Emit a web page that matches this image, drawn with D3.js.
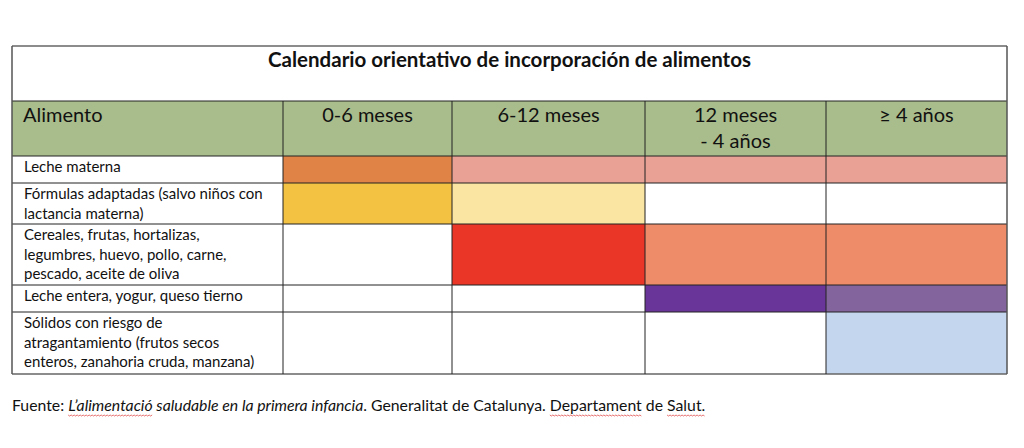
<meta charset="utf-8">
<style>
body { margin: 0; background: #fff; }
svg { font-family: Lato, "Open Sans", sans-serif; }
.cellText { font-size: 15px; fill: #111; }
.headText { font-size: 20px; fill: #111; }
.title { font-size: 20.5px; font-weight: bold; fill: #111; }
.foot { font-size: 15.8px; fill: #111; }
</style>
<body>
<script src="https://d3js.org/d3.v7.min.js"></script>
<script>
// table content
var title = "Calendario orientativo de incorporación de alimentos";
var firstHead = "Alimento";
var periods = [["0-6 meses"], ["6-12 meses"], ["12 meses", "- 4 años"], ["\u2265 4 años"]];
var foods = [
  ["Leche materna"],
  ["Fórmulas adaptadas (salvo niños con", "lactancia materna)"],
  ["Cereales, frutas, hortalizas,", "legumbres, huevo, pollo, carne,", "pescado, aceite de oliva"],
  ["Leche entera, yogur, queso tierno"],
  ["Sólidos con riesgo de", "atragantamiento (frutos secos", "enteros, zanahoria cruda, manzana)"]
];
// cell fill per food (row) and period (column); null = not introduced
var cellFill = [
  ["#df8446", "#e9a196", "#e9a196", "#e9a196"],
  ["#f4c243", "#fbe5a2", null, null],
  [null, "#e93627", "#ee8c69", "#ee8c69"],
  [null, null, "#6a3598", "#83649c"],
  [null, null, null, "#c4d6ee"]
];
var footParts = [
  {t: "Fuente: ", it: false},
  {t: "L\u2019alimentació saludable en la primera infancia", it: true},
  {t: ". Generalitat de Catalunya. Departament de Salut.", it: false}
];
// words flagged by the spell checker in the source line
var flagged = ["L\u2019alimentació", "Departament", "Salut."];

// layout
var W = 1024, H = 448;
var tLeft = 12, tRight = 1007, tTop = 46;
var colEdges = [12, 283, 452, 645, 826, 1007];
var titleH = 55, headH = 55;
var rowH = [27, 41, 61, 27, 62];
var lineH = 19.5;

var svg = d3.select("body").append("svg")
    .attr("width", W)
    .attr("height", H);

var cols = d3.range(colEdges.length - 1);
var x = d3.scaleOrdinal().domain(cols).range(colEdges.slice(0, -1));
var cw = function(i) { return colEdges[i + 1] - colEdges[i]; };

var rowTop = [];
var acc = tTop + titleH + headH;
rowH.forEach(function(h) { rowTop.push(acc); acc += h; });
var tBottom = acc;

// title row
svg.append("rect")
    .attr("x", tLeft).attr("y", tTop)
    .attr("width", tRight - tLeft).attr("height", titleH)
    .attr("fill", "#fff");
svg.append("text")
    .attr("class", "title")
    .attr("x", (tLeft + tRight) / 2)
    .attr("y", tTop + 21)
    .attr("text-anchor", "middle")
    .text(title);

// header row
var headY = tTop + titleH;
svg.append("rect")
    .attr("x", tLeft).attr("y", headY)
    .attr("width", tRight - tLeft).attr("height", headH)
    .attr("fill", "#a9bc8b");
svg.append("text")
    .attr("class", "headText")
    .attr("x", tLeft + 11)
    .attr("y", headY + 21)
    .text(firstHead);
var hd = svg.selectAll(".hd")
    .data(periods)
    .enter().append("text")
    .attr("class", "headText hd")
    .attr("text-anchor", "middle")
    .attr("x", function(d, i) { return x(i + 1) + cw(i + 1) / 2; })
    .attr("y", headY + 21);
hd.selectAll("tspan")
    .data(function(d) { return d; })
    .enter().append("tspan")
    .attr("x", function() { return d3.select(this.parentNode).attr("x"); })
    .attr("dy", function(d, i) { return i ? 26 : 0; })
    .text(function(d) { return d; });

// body cells
var rows = svg.selectAll(".row")
    .data(foods)
    .enter().append("g")
    .attr("class", "row")
    .attr("transform", function(d, i) { return "translate(0," + rowTop[i] + ")"; });

rows.selectAll("rect")
    .data(function(d, i) { return cellFill[i].map(function(c, j) { return {c: c, j: j, h: rowH[i]}; }); })
    .enter().append("rect")
    .attr("x", function(d) { return x(d.j + 1); })
    .attr("y", 0)
    .attr("width", function(d) { return cw(d.j + 1); })
    .attr("height", function(d) { return d.h; })
    .attr("fill", function(d) { return d.c || "#fff"; });

var ft = rows.append("text")
    .attr("class", "cellText")
    .attr("x", tLeft + 12)
    .attr("y", 16);
ft.selectAll("tspan")
    .data(function(d) { return d; })
    .enter().append("tspan")
    .attr("x", tLeft + 12)
    .attr("dy", function(d, i) { return i ? lineH : 0; })
    .text(function(d) { return d; });

// grid lines
var hLines = [tTop, tTop + titleH, tTop + titleH + headH].concat(rowTop.slice(1)).concat([tBottom]);
svg.selectAll(".hl")
    .data(hLines)
    .enter().append("line")
    .attr("class", "hl")
    .attr("x1", tLeft).attr("x2", tRight)
    .attr("y1", function(d) { return d; }).attr("y2", function(d) { return d; })
    .attr("stroke", function(d, i) { return (i == 0 || i == hLines.length - 1) ? "#666" : "#222"; })
    .attr("stroke-width", function(d, i) { return (i == 0 || i == hLines.length - 1) ? 1.5 : 1; });
svg.selectAll(".vl")
    .data(colEdges.slice(1, -1))
    .enter().append("line")
    .attr("class", "vl")
    .attr("x1", function(d) { return d; }).attr("x2", function(d) { return d; })
    .attr("y1", tTop + titleH).attr("y2", tBottom)
    .attr("stroke", "#222");
[tLeft, tRight].forEach(function(xx) {
  svg.append("line")
      .attr("x1", xx).attr("x2", xx)
      .attr("y1", tTop).attr("y2", tBottom)
      .attr("stroke", "#555").attr("stroke-width", 1.5);
});

// source line
var footY = 411;
var foot = svg.append("text")
    .attr("class", "foot")
    .attr("x", tLeft)
    .attr("y", footY);
foot.selectAll("tspan")
    .data(footParts)
    .enter().append("tspan")
    .attr("font-style", function(d) { return d.it ? "italic" : null; })
    .text(function(d) { return d.t; });

// red wavy underlines
var full = footParts.map(function(d) { return d.t; }).join("");
var node = foot.node();
flagged.forEach(function(w) {
  var a = full.indexOf(w), b = a + w.length - 1;
  var x0 = node.getStartPositionOfChar(a).x, x1 = node.getEndPositionOfChar(b).x;
  var pts = d3.range(x0, x1, 1.5).map(function(xx, k) { return [xx, footY + 4 + (k % 2 ? 1 : 0)]; });
  svg.append("path")
      .attr("d", d3.line()(pts))
      .attr("fill", "none")
      .attr("stroke", "#d33")
      .attr("stroke-width", 0.7);
});

</script>
</body>
